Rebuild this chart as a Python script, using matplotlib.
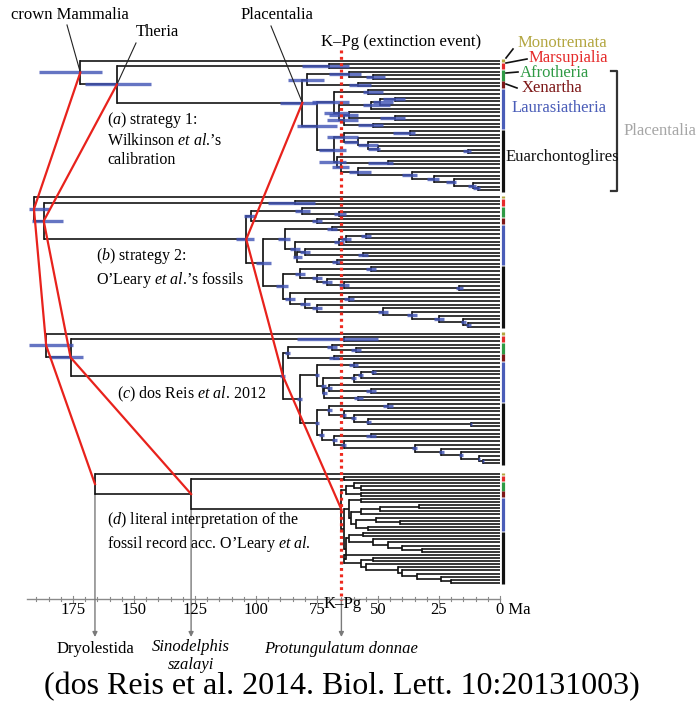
import matplotlib
matplotlib.use("Agg")
import matplotlib.pyplot as plt

plt.rcParams['font.family'] = ['Liberation Serif', 'DejaVu Serif']
plt.rcParams['mathtext.fontset'] = 'custom'
plt.rcParams['mathtext.rm'] = 'Liberation Serif'
plt.rcParams['mathtext.it'] = 'Liberation Serif:italic'

# ---------------- data ----------------
NODES = ["Mammalia", "Theria", "Marsupialia", "Placentalia", "Atlantogenata", "Afrotheria",
         "Paenungulata", "Xenarthra", "Boreoeutheria", "Laurasiatheria", "Eulipotyphla",
         "Scrotifera", "Cetartiodactyla", "Cetruminantia", "Ruminantia", "Fereuungulata",
         "Zooamata", "Carnivora", "Chiroptera", "Euarchontoglires", "Glires", "Lagomorpha",
         "Rodentia", "Rodentia2", "Rodentia3", "Murinae", "Euarchonta", "Primates",
         "Strepsirrhini", "Haplorhini", "Anthropoidea", "Catarrhini", "Hominidae",
         "Homininae", "Hominini"]
CHILDREN = [("Platypus", "Theria"), ("Marsupialia", "Placentalia"), ("Opossum", "Wallaby"),
            ("Atlantogenata", "Boreoeutheria"), ("Afrotheria", "Xenarthra"), ("Tenrec", "Paenungulata"),
            ("Elephant", "Hyrax"), ("Armadillo", "Sloth"), ("Laurasiatheria", "Euarchontoglires"),
            ("Eulipotyphla", "Scrotifera"), ("Hedgehog", "Shrew"), ("Cetartiodactyla", "Fereuungulata"),
            ("Cetruminantia", "Alpaca"), ("Ruminantia", "Pig"), ("Cow", "Dolphin"),
            ("Zooamata", "Chiroptera"), ("Horse", "Carnivora"), ("Cat", "Dog"), ("Microbat", "Megabat"),
            ("Glires", "Euarchonta"), ("Lagomorpha", "Rodentia"), ("Rabbit", "Pika"),
            ("Guinea pig", "Rodentia2"), ("Squirrel", "Rodentia3"), ("Kangaroo rat", "Murinae"),
            ("Mouse", "Rat"), ("Tree shrew", "Primates"), ("Strepsirrhini", "Haplorhini"),
            ("Bushbaby", "Mouse lemur"), ("Tarsier", "Anthropoidea"), ("Marmoset", "Catarrhini"),
            ("Macaque", "Hominidae"), ("Orangutan", "Homininae"), ("Gorilla", "Hominini"),
            ("Chimp", "Human")]

# node ages (Ma), same order as NODES
AGES_A = [172, 157, 70, 81, 79, 62, 52, 58, 75, 68, 54, 66, 53, 49, 43, 64, 62, 43, 52,
          68, 64, 37, 58, 54, 50, 13, 67, 65, 46, 58, 36, 27, 19, 11, 9]
AGES_B = [191, 187, 84, 104, 102, 81, 66, 75, 97, 88, 69, 84, 66, 63, 55, 83, 80, 56, 67,
          89, 82, 53, 75, 71, 64, 17, 86, 80, 62, 75, 48, 36, 25, 15, 13]
AGES_C = [186, 176, 64, 89, 87, 69, 59, 68, 82, 75, 60, 72.5, 60, 57, 52, 72, 70, 53, 58,
          75, 70, 46, 64, 60, 54, 12, 73, 68, 53, 64, 35, 24, 16, 8.6, 7]
AGES_D = [166, 126.6, 64, 65, 63, 60, 57, 57, 64, 62, 57, 61, 57, 49, 33, 59, 51, 41, 54,
          63, 62, 56, 52, 46, 40, 32, 64, 57, 52, 55, 42, 40, 34, 24, 20]

# 95% intervals (Ma) for strategies a-c
CI_LO_A = [163, 143, 62, 75, 72, 57, 47, 53, 67, 62, 48, 62, 45, 44, 39, 58, 58, 39, 48,
           63, 58, 35, 58, 50, 49, 12, 63, 62, 44, 53, 34, 25, 18, 10, 8]
CI_HI_A = [189, 170, 81, 90, 87, 70, 55, 62, 83, 77, 56, 72, 56, 52, 48, 71, 70, 49, 58,
           74, 71, 44, 64, 58, 54, 15, 74, 69, 54, 62, 40, 30, 22, 13, 11]
CI_LO_B = [185, 179, 76, 101, 100, 78, 63, 73, 94, 86, 67, 82, 64, 61, 53, 81, 78, 54, 65,
           87, 80, 51, 73, 69, 62, 15, 84, 78, 60, 73, 46, 34, 23, 14, 12]
CI_HI_B = [193, 192, 95, 108, 105, 84, 68, 77, 100, 91, 71, 86, 68, 65, 57, 85, 82, 58, 69,
           92, 84, 55, 77, 73, 66, 18, 88, 82, 64, 77, 50, 38, 27, 16, 14]
CI_LO_C = [175, 171, 50, 88, 86, 67, 57, 66, 81, 74, 58, 71.5, 59, 56, 51, 71, 69, 51, 56,
           74, 69, 44, 63, 59, 53, 11.5, 72, 67, 51, 63, 34, 23, 15, 8, 6.6]
CI_HI_C = [193, 185, 83, 90, 88, 71, 61, 70, 83, 76, 62, 73.5, 61, 58, 53, 73, 71, 55, 60,
           76, 71, 48, 65, 61, 55, 12.5, 74, 69, 55, 65, 36, 25, 17, 9.2, 7.4]

GROUP_NAMES = ["Monotremata", "Marsupialia", "Afrotheria", "Xenartha", "Laurasiatheria", "Euarchontoglires"]
GROUP_SIZES = [1, 2, 3, 2, 11, 17]
GROUP_COLORS = ["#b3a640", "#e52a2a", "#2f9a45", "#7d1717", "#4a5db8", "#111111"]

TICKS = [175, 150, 125, 100, 75, 50, 25, 0]
KPG = 65
FOSSILS = ["Dryolestida", "Sinodelphis\nszalayi", "Protungulatum donnae"]

# ---------------- layout ----------------
PX0, PPM = 500.0, 2.44          # pixel of 0 Ma, pixels per Ma
def ma(xpix):
    return (PX0 - xpix) / PPM

fig = plt.figure(figsize=(6.97, 7.05), dpi=100)
ax = fig.add_axes([0, 0, 1, 1])
ax.set_xlim(ma(0), ma(697))
ax.set_ylim(705, 0)
ax.axis('off')

child_map = dict(zip(NODES, CHILDREN))

def tip_order(n):
    if n not in child_map:
        return [n]
    l, r = child_map[n]
    return tip_order(l) + tip_order(r)

TIPS = tip_order("Mammalia")

def layout(top, sp):
    y = {t: top + i * sp for i, t in enumerate(TIPS)}
    def rec(n):
        if n in y:
            return y[n]
        l, r = child_map[n]
        y[n] = (rec(l) + rec(r)) / 2.0
        return y[n]
    rec("Mammalia")
    return y

LINE = "#141414"
CI_COL = "#3f52b5"

def draw_tree(ages, top, sp, lo=None, hi=None):
    age = dict(zip(NODES, ages))
    y = layout(top, sp)
    for n in NODES:
        l, r = child_map[n]
        ax.plot([age[n], age[n]], [y[l], y[r]], color=LINE, lw=1.25, zorder=2,
                solid_capstyle='projecting')
        for c in (l, r):
            ax.plot([age[n], age.get(c, 0)], [y[c], y[c]], color=LINE, lw=1.2, zorder=2,
                    solid_capstyle='butt')
    if lo is not None:
        for n, a, b in zip(NODES, lo, hi):
            ax.plot([a, b], [y[n], y[n]], color=CI_COL, lw=2.4, alpha=0.8, zorder=3,
                    solid_capstyle='butt')
    # group bars
    i0 = 0
    for size, col in zip(GROUP_SIZES, GROUP_COLORS):
        y0 = y[TIPS[i0]] - 0.4 * sp
        y1 = y[TIPS[i0 + size - 1]] + 0.4 * sp
        ax.plot([ma(502.5), ma(502.5)], [y0, y1], color=col, lw=2.3, zorder=2,
                solid_capstyle='butt')
        i0 += size
    return age, y

panels = [
    (AGES_A, 60.5, 3.71, CI_LO_A, CI_HI_A),
    (AGES_B, 197.0, 3.71, CI_LO_B, CI_HI_B),
    (AGES_C, 333.5, 3.71, CI_LO_C, CI_HI_C),
    (AGES_D, 474.0, 3.11, None, None),
]
results = [draw_tree(*p) for p in panels]

# red calibration connectors
for clade in ["Mammalia", "Theria", "Placentalia"]:
    xs = [r[0][clade] for r in results]
    ys = [r[1][clade] for r in results]
    ax.plot(xs, ys, color="#e8221c", lw=1.6, zorder=4)

# K-Pg dotted line
ax.plot([KPG, KPG], [50, 600], color="#ee2a1f", lw=2.3, linestyle=(0, (0.9, 1.1)), zorder=5)

# ---------------- time axis ----------------
AX_Y = 599
ax.plot([ma(27), 0], [AX_Y, AX_Y], color="#8a8a8a", lw=1.0, zorder=1)
for t in range(0, 195, 5):
    h = 3 if t % 25 == 0 else 2
    ax.plot([t, t], [AX_Y - h, AX_Y + h], color="#8a8a8a", lw=0.8, zorder=1)
for t in TICKS:
    if t == 0:
        ax.text(t + 1.5, 610, "0 Ma", ha='left', va='center', fontsize=12)
    else:
        ax.text(t, 610, str(t), ha='center', va='center', fontsize=12)
ax.text(KPG - 0.5, 604, "K–Pg", ha='center', va='center', fontsize=12)

# fossil arrows
dage, dy = results[3]
arrow_x = [dage["Mammalia"], dage["Theria"], KPG]
arrow_top = [dy["Mammalia"] + 9.5, dy["Theria"] + 15.5, AX_Y]
for xa, yt in zip(arrow_x, arrow_top):
    ax.annotate("", xy=(xa, 637), xytext=(xa, yt),
                arrowprops=dict(arrowstyle='-|>', color="#7a7a7a", lw=1.0,
                                mutation_scale=7, shrinkA=0, shrinkB=0), zorder=1)
ax.text(arrow_x[0], 649, FOSSILS[0], ha='center', va='center', fontsize=12)
ax.text(arrow_x[1], 656, FOSSILS[1], ha='center', va='center', fontsize=12,
        style='italic', linespacing=1.1)
ax.text(arrow_x[2], 649, FOSSILS[2], ha='center', va='center', fontsize=12, style='italic')

# caption
ax.text(ma(44), 687, "(dos Reis et al. 2014. Biol. Lett. 10:20131003)", ha='left',
        va='center', fontsize=23)

# ---------------- annotations ----------------
aage, ay = results[0]
ax.text(ma(70), 15, "crown Mammalia", ha='center', va='center', fontsize=12)
ax.plot([ma(67), aage["Mammalia"]], [25, ay["Mammalia"]], color="#222", lw=0.8, zorder=3)
ax.text(ma(157), 32, "Theria", ha='center', va='center', fontsize=12)
ax.plot([ma(136), aage["Theria"]], [43, ay["Theria"]], color="#222", lw=0.8, zorder=3)
ax.text(ma(277), 15, "Placentalia", ha='center', va='center', fontsize=12)
ax.plot([ma(271), aage["Placentalia"]], [26, ay["Placentalia"]], color="#222", lw=0.8, zorder=3)
ax.text(ma(401), 42, "K–Pg (extinction event)", ha='center', va='center', fontsize=12)

# panel labels
ax.text(ma(107), 139, "($\\mathit{a}$) strategy 1:\nWilkinson $\\mathit{et\\ al}$.’s\ncalibration",
        ha='left', va='center', fontsize=11.5, linespacing=1.25)
ax.text(ma(96), 268, "($\\mathit{b}$) strategy 2:\nO’Leary $\\mathit{et\\ al}$.’s fossils",
        ha='left', va='center', fontsize=11.5, linespacing=1.25)
ax.text(ma(117), 394, "($\\mathit{c}$) dos Reis $\\mathit{et\\ al}$. 2012",
        ha='left', va='center', fontsize=11.5)
ax.text(ma(107), 532, "($\\mathit{d}$) literal interpretation of the\nfossil record acc. O’Leary $\\mathit{et\\ al}$.",
        ha='left', va='center', fontsize=11.5, linespacing=1.25)

# right-hand group labels (panel a)
label_pos = [(518, 43), (529, 58), (520, 73), (522, 88), (512, 108), (506, 157)]
for name, col, (xp, yp) in zip(GROUP_NAMES, GROUP_COLORS, label_pos):
    ax.text(ma(xp), yp, name, ha='left', va='center', fontsize=12, color=col)
leaders = [((506, 58), (513, 49)), ((506, 63), (527, 59)), ((506, 73), (518, 72)),
           ((506, 84), (517, 88))]
for (x0, y0), (x1, y1) in leaders:
    ax.plot([ma(x0), ma(x1)], [y0, y1], color="#111", lw=1.2)
# Placentalia bracket
ax.plot([ma(611), ma(617), ma(617), ma(611)], [71, 71, 191, 191], color="#333", lw=1.6)
ax.text(ma(624), 131, "Placentalia", ha='left', va='center', fontsize=12, color="#a6a6a6")

fig.savefig("out.png", dpi=100)
